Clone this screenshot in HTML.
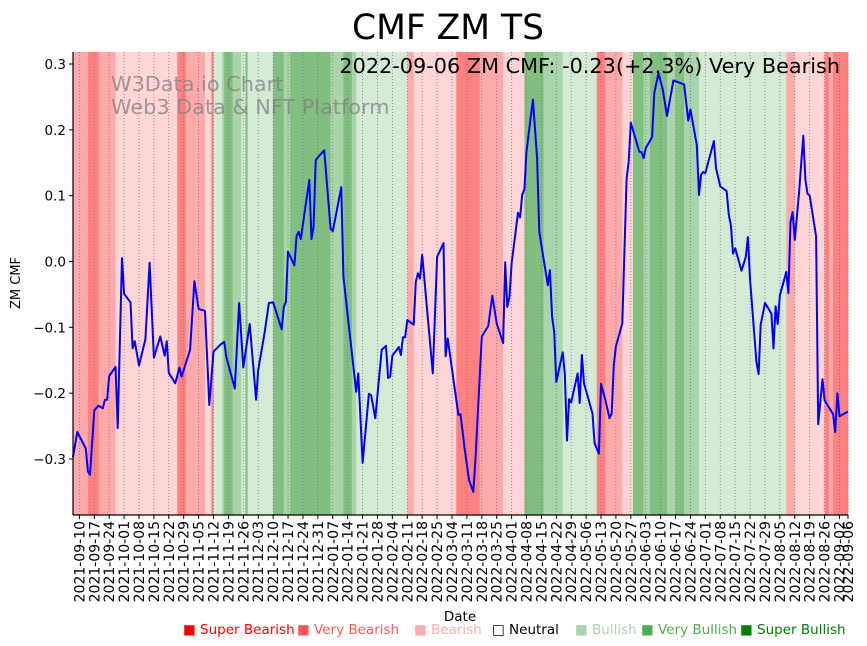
<!DOCTYPE html>
<html><head><meta charset="utf-8">
<style>
body{margin:0;background:#fff;}
svg{display:block;font-family:"DejaVu Sans","Liberation Sans",sans-serif;}
</style></head>
<body>
<svg id="chart" width="867" height="646" viewBox="0 0 867 646" xmlns="http://www.w3.org/2000/svg">
<g id="bands"></g>
<g id="grid"></g>
<text x="111" y="91" font-size="20.8" fill="#808080" fill-opacity="0.75">W3Data.io Chart</text>
<text x="111" y="114" font-size="20.8" fill="#808080" fill-opacity="0.75">Web3 Data &amp; NFT Platform</text>
<path id="line" fill="none" stroke="#0000ff" stroke-width="2" stroke-linejoin="round"/>
<g id="axes"></g>
<text x="448" y="39" font-size="34.5" text-anchor="middle">CMF ZM TS</text>
<text x="840" y="73" font-size="20.8" text-anchor="end">2022-09-06 ZM CMF: -0.23(+2.3%) Very Bearish</text>
<text x="20" y="283" font-size="13" text-anchor="middle" transform="rotate(-90 20 283)">ZM CMF</text>
<text x="460" y="621" font-size="13.5" text-anchor="middle">Date</text>
<g id="legend" font-size="13.5">
<text x="183" y="634" fill="#ff0000">■ Super Bearish</text>
<text x="297" y="634" fill="#ff5555">■ Very Bearish</text>
<text x="414" y="634" fill="#ffaaaa">■ Bearish</text>
<text x="492" y="634" fill="#000000">□ Neutral</text>
<text x="575" y="634" fill="#aad4aa">■ Bullish</text>
<text x="641" y="634" fill="#4caf50">■ Very Bullish</text>
<text x="740" y="634" fill="#008000">■ Super Bullish</text>
</g>
</svg>
<script>
// day offsets from 2021-09-07
const days = [0,2,6,7,8,10,12,14,15,16,17,20,21,23,24,27,28,29,31,34,36,38,41,43,44,45,48,50,51,55,57,59,62,64,66,69,71,72,76,78,80,83,86,87,90,92,94,98,99,100,101,104,105,106,107,111,112,113,114,115,118,121,122,126,127,133,134,136,139,140,142,145,147,148,149,150,153,154,155,156,157,160,161,162,163,164,169,171,174,175,176,181,182,184,186,188,189,192,195,197,199,202,203,204,205,206,209,210,211,212,213,216,218,219,223,224,225,226,227,230,231,232,233,234,237,238,239,240,244,245,247,248,250,252,253,254,255,258,260,261,262,266,267,268,269,272,273,275,277,279,282,287,289,290,293,294,295,296,297,301,302,304,307,308,309,310,311,314,316,317,318,321,322,323,325,328,329,330,331,332,335,336,337,338,339,341,343,344,345,346,349,350,352,353,357,358,359,360,364];
const cmf = [-0.297,-0.259,-0.284,-0.319,-0.324,-0.226,-0.219,-0.223,-0.210,-0.210,-0.174,-0.160,-0.253,0.005,-0.049,-0.062,-0.132,-0.121,-0.158,-0.118,-0.002,-0.146,-0.114,-0.143,-0.121,-0.169,-0.185,-0.161,-0.175,-0.134,-0.030,-0.072,-0.075,-0.218,-0.137,-0.127,-0.122,-0.145,-0.193,-0.063,-0.161,-0.095,-0.210,-0.165,-0.108,-0.063,-0.062,-0.103,-0.069,-0.061,0.015,-0.006,0.039,0.045,0.034,0.124,0.034,0.053,0.154,0.158,0.169,0.050,0.046,0.113,-0.023,-0.198,-0.170,-0.306,-0.201,-0.203,-0.238,-0.134,-0.128,-0.177,-0.175,-0.143,-0.130,-0.142,-0.115,-0.115,-0.089,-0.096,-0.031,-0.018,-0.026,0.010,-0.170,0.007,0.028,-0.144,-0.117,-0.233,-0.232,-0.286,-0.332,-0.350,-0.302,-0.114,-0.098,-0.052,-0.094,-0.124,-0.001,-0.069,-0.054,-0.003,0.074,0.067,0.101,0.110,0.167,0.246,0.157,0.045,-0.036,-0.013,-0.084,-0.107,-0.183,-0.138,-0.170,-0.272,-0.209,-0.214,-0.170,-0.215,-0.142,-0.185,-0.231,-0.276,-0.292,-0.186,-0.210,-0.238,-0.231,-0.157,-0.129,-0.094,0.126,0.152,0.211,0.167,0.166,0.157,0.172,0.189,0.256,0.286,0.261,0.221,0.275,0.269,0.214,0.231,0.177,0.101,0.132,0.136,0.134,0.183,0.142,0.114,0.107,0.071,0.055,0.012,0.020,-0.014,0.007,0.037,-0.028,-0.152,-0.171,-0.096,-0.063,-0.079,-0.132,-0.068,-0.095,-0.051,-0.016,-0.048,0.060,0.075,0.033,0.104,0.191,0.124,0.103,0.100,0.038,-0.247,-0.179,-0.211,-0.232,-0.259,-0.200,-0.235,-0.228];
const bandStart = [0,7,12,20,49,53,62,65,66,70,71,75,79,81,82,94,99,102,121,127,131,133,157,160,180,191,202,212,221,230,246,250,258,263,268,271,279,283,287,294,335,339,353,355,357];
const bandClass = ['vbear','sbear','vbear','bear','sbear','vbear','bear','sbear','bull','vbull','sbull','vbull','bull','sbull','bull','sbull','vbull','sbull','vbull','sbull','vbull','bull','vbear','bear','sbear','vbear','bear','sbull','vbull','bull','sbear','vbear','bear','sbull','vbull','sbull','vbull','sbull','vbull','bull','vbear','bear','sbear','vbear','sbear'];
const tickDays = [3,10,17,24,31,38,45,52,59,66,73,80,87,94,101,108,115,122,129,136,143,150,157,164,171,178,185,192,199,206,213,220,227,234,241,248,255,262,269,276,283,290,297,304,311,318,325,332,339,346,353,360,364];
const tickLabels = ['2021-09-10','2021-09-17','2021-09-24','2021-10-01','2021-10-08','2021-10-15','2021-10-22','2021-10-29','2021-11-05','2021-11-12','2021-11-19','2021-11-26','2021-12-03','2021-12-10','2021-12-17','2021-12-24','2021-12-31','2022-01-07','2022-01-14','2022-01-21','2022-01-28','2022-02-04','2022-02-11','2022-02-18','2022-02-25','2022-03-04','2022-03-11','2022-03-18','2022-03-25','2022-04-01','2022-04-08','2022-04-15','2022-04-22','2022-04-29','2022-05-06','2022-05-13','2022-05-20','2022-05-27','2022-06-03','2022-06-10','2022-06-17','2022-06-24','2022-07-01','2022-07-08','2022-07-15','2022-07-22','2022-07-29','2022-08-05','2022-08-12','2022-08-19','2022-08-26','2022-09-02','2022-09-06'];
const yTicks = [-0.3,-0.2,-0.1,0.0,0.1,0.2,0.3];
const endDay = 364;

const X0=73,X1=848,Y0=52,Y1=515;
const xs = d => X0 + d*(X1-X0)/endDay;
const ys = v => 261.5 - v*658.3;
const NS='http://www.w3.org/2000/svg';
const colors={sbear:'#ff8080',vbear:'#ffaaaa',bear:'#ffd5d5',bull:'#d5ead5',vbull:'#aad4aa',sbull:'#80bf80'};
const mk=(t,a,p)=>{const e=document.createElementNS(NS,t);for(const k in a)e.setAttribute(k,a[k]);p.appendChild(e);return e;};

const bands=document.getElementById('bands');
bandStart.forEach((s,i)=>{
  const e=i+1<bandStart.length?bandStart[i+1]:endDay;
  const r=mk('rect',{x:xs(s),y:Y0,width:xs(e)-xs(s)+0.3,height:Y1-Y0,fill:colors[bandClass[i]]},bands);
  
  
});
const grid=document.getElementById('grid');
const axes=document.getElementById('axes');
tickDays.forEach((d,i)=>{
  const x=xs(d);
  const g=mk('line',{x1:x,x2:x,y1:Y0,y2:Y1,stroke:'#777',"stroke-width":0.8,"stroke-dasharray":"1,2"},grid);
  
  
  const t=mk('line',{x1:x,x2:x,y1:Y1,y2:Y1+4,stroke:'#000',"stroke-width":1},axes);
  
  
  const lb=mk('text',{x:0,y:0,"font-size":14,"text-anchor":"end",transform:`translate(${x+5},${Y1+6}) rotate(-90)`},axes);
  lb.textContent=tickLabels[i];
  
  
});
yTicks.forEach(v=>{
  const y=ys(v);
  const t=mk('line',{x1:X0-4,x2:X0,y1:y,y2:y,stroke:'#000',"stroke-width":1},axes);
  
  
  const lb=mk('text',{x:X0-7,y:y+5,"font-size":13.5,"text-anchor":"end"},axes);
  lb.textContent=(v<0?'\u2212':'')+Math.abs(v).toFixed(1);
  
  
});
const sp1=mk('line',{x1:X0,x2:X0,y1:Y0,y2:Y1,stroke:'#000',"stroke-width":1.2},axes);


const sp2=mk('line',{x1:X0,x2:X1,y1:Y1,y2:Y1,stroke:'#000',"stroke-width":1.2},axes);


document.getElementById('line').setAttribute('d',days.map((d,i)=>(i?'L':'M')+xs(d).toFixed(1)+','+ys(cmf[i]).toFixed(1)).join(''));
</script>
</body></html>
